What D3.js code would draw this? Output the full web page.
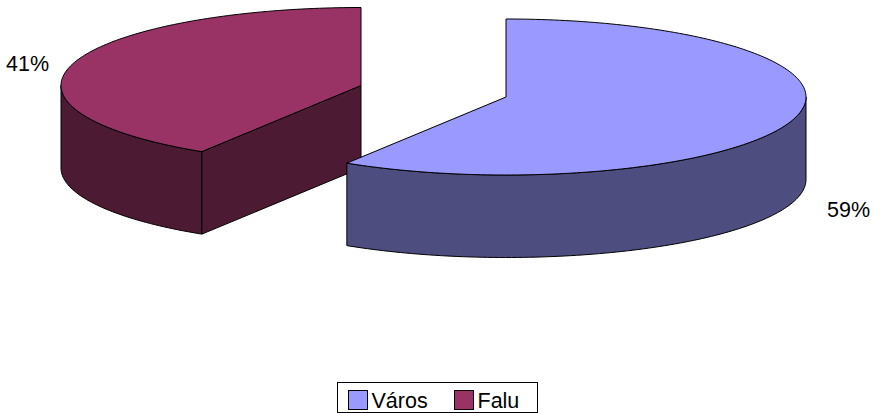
<!DOCTYPE html>
<html><head><meta charset="utf-8">
<script src="https://cdn.jsdelivr.net/npm/d3@7"></script>
<style>html,body{margin:0;padding:0;background:#fff}svg{display:block}text{font-family:"Liberation Sans",Arial,sans-serif;fill:#000}</style>
</head><body>
<script>
const categories = ["Város", "Falu"];
const values = [58.9, 41.1];
const labels = ["59%", "41%"];
const topColors = ["#9999FF", "#993366"];
const sideColors = ["#4D4D80", "#4D1A33"];
const width = 875, height = 413;
const rx = 300, ry = 78, depth = 82.5;
const centers = [[506, 97], [361, 85.5]];
const labelPos = [[827, 217], [6, 71]];

const svg = d3.select("body").append("svg").attr("width", width).attr("height", height);
const arcs = d3.pie().sort(null)(values);

const project = (c, a, dy = 0) => [c[0] + rx * Math.sin(a), c[1] - ry * Math.cos(a) + dy];
const line = d3.line();
const stroke = "#000";

function sweep(a0, a1) {
  const n = Math.max(2, Math.ceil(Math.abs(a1 - a0) / 0.02));
  return d3.range(n + 1).map(i => a0 + (a1 - a0) * i / n);
}
function drawSlice(i) {
  const c = centers[i], d = arcs[i];
  const g = svg.append("g").attr("stroke", stroke).attr("stroke-width", 1).attr("stroke-linejoin", "round");
  // outer wall: only the front half (angles from PI/2 to 3PI/2) is visible
  const lo = Math.max(d.startAngle, Math.PI / 2), hi = Math.min(d.endAngle, 3 * Math.PI / 2);
  if (hi > lo) {
    const angles = sweep(lo, hi);
    const upper = angles.map(a => project(c, a));
    const lower = angles.map(a => project(c, a, depth)).reverse();
    g.append("path").attr("d", line(upper.concat(lower)) + "Z").attr("fill", sideColors[i]);
  }
  // cut wall seen from the front: the falu slice shows its face towards the centre
  if (i === 1) {
    const e = project(c, d.startAngle);
    const e2 = project(c, d.startAngle, depth);
    g.append("path").attr("d", line([c, e, e2, [c[0], c[1] + depth]]) + "Z").attr("fill", sideColors[i]);
  }
  const rim = sweep(d.startAngle, d.endAngle).map(a => project(c, a));
  g.append("path").attr("d", line([c, ...rim]) + "Z").attr("fill", topColors[i]);
}
drawSlice(1);
drawSlice(0);

svg.selectAll("text.lab").data(labels).join("text").attr("class", "lab")
  .attr("x", (d, i) => labelPos[i][0]).attr("y", (d, i) => labelPos[i][1])
  .attr("font-size", 21.5).text(d => d);

// legend
svg.append("rect").attr("x", 337.5).attr("y", 382.5).attr("width", 200).attr("height", 30)
  .attr("fill", "#fff").attr("stroke", "#000");
const swatchX = d3.scaleOrdinal().domain(categories).range([348, 454]);
const lg = svg.selectAll("g.leg").data(categories).join("g").attr("class", "leg")
  .attr("transform", d => `translate(${swatchX(d)},0)`);
lg.append("rect").attr("x", 0.5).attr("y", 390.5).attr("width", 19).attr("height", 19)
  .attr("fill", (d, i) => topColors[i]).attr("stroke", "#000");
lg.append("text").attr("x", 23.5).attr("y", 408).attr("font-size", 21.5).text(d => d);
</script>
</body></html>
